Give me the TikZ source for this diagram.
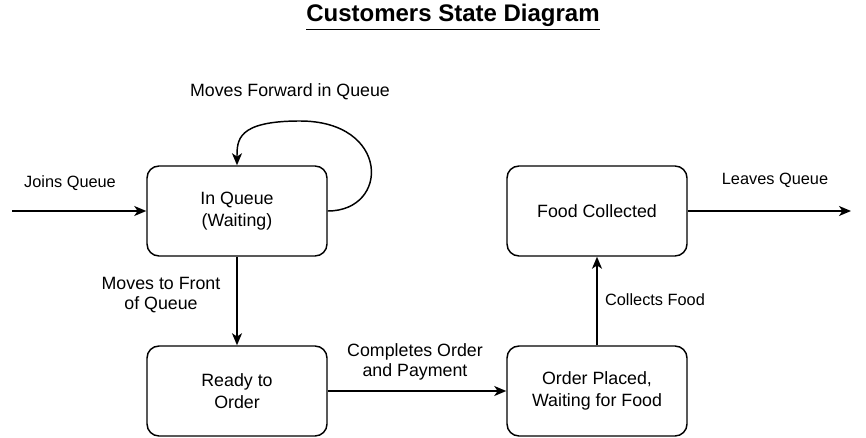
\documentclass[tikz,border=0pt]{standalone}
\usepackage{fontspec}
\setmainfont{Liberation Sans}
\usetikzlibrary{arrows.meta}

\begin{document}
\begin{tikzpicture}[x=0.75pt, y=-0.75pt,
        state/.style={draw, line width=1.1pt, rounded corners=9pt, minimum width=135pt, minimum height=67.5pt, align=center, font=\fontsize{13.35}{16}\selectfont},
        lbl/.style={align=center, font=\fontsize{13.35}{15.5}\selectfont},
        smalllbl/.style={align=center, font=\fontsize{12.25}{14.7}\selectfont},
        arr/.style={-{Stealth[length=9pt,width=7.5pt,inset=2.5pt]}, line width=1.1pt}]
        \useasboundingbox (0,0) rectangle (866,438);

        \node[font=\fontsize{18}{21}\selectfont\bfseries] at (453,17) (title) {\underline{Customers State Diagram}};

        \node[state] at (237,211) (queue) {In Queue\\(Waiting)};
        \node[state] at (237,391) (ready) {Ready to\\Order};
        \node[state] at (597,391) (placed) {Order Placed,\\Waiting for Food};
        \node[state] at (597,211) (collected) {Food Collected};

        \coordinate (start) at (12,211);
        \coordinate (finish) at (851,211);
        \coordinate (looptop) at (300,121);

        \draw [arr] (start) -- (queue);
        \draw [arr] (queue.east) .. controls (390,211) and (390,121) .. (looptop) .. controls (237,121) and (237,140) .. (queue.north);
        \draw [arr] (queue) -- (ready);
        \draw [arr] (ready) -- (placed);
        \draw [arr] (placed) -- (collected);
        \draw [arr] (collected) -- (finish);

        \node[smalllbl] at (70,183) (joins) {Joins Queue};
        \node[lbl] at (290,92) (forward) {Moves Forward in Queue};
        \node[lbl] at (161,295) (front) {Moves to Front\\of Queue};
        \node[lbl] at (415,362) (completes) {Completes Order\\and Payment};
        \node[smalllbl] at (655,300) (collects) {Collects Food};
        \node[smalllbl] at (775,180) (leaves) {Leaves Queue};
    \end{tikzpicture}
\end{document}
